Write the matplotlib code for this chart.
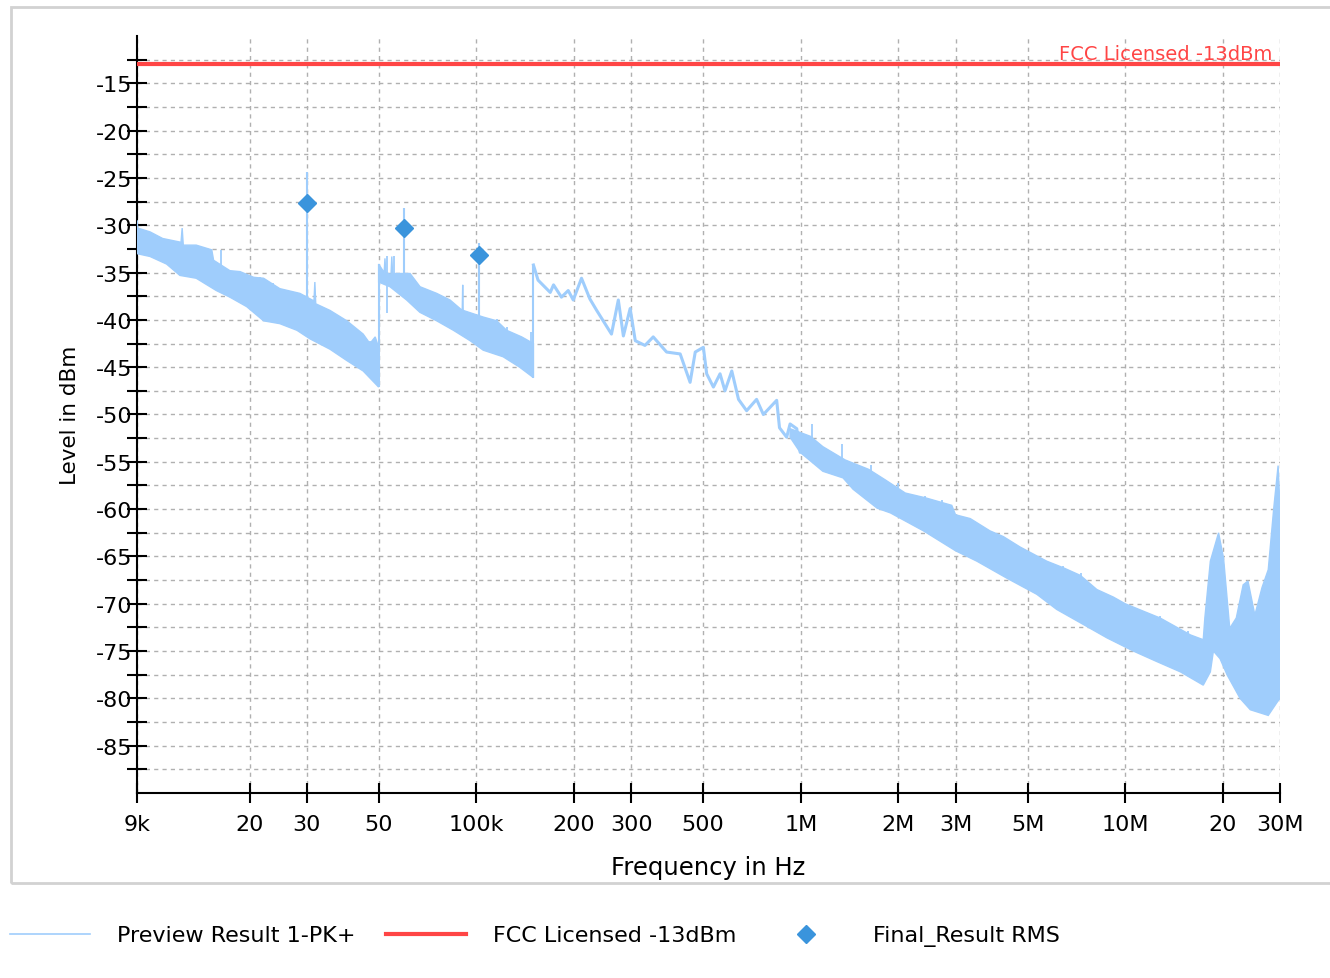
import numpy as np
import matplotlib
matplotlib.use("Agg")
import matplotlib.pyplot as plt
from matplotlib.patches import Rectangle

plt.rcParams['font.family'] = ['DejaVu Sans']
plt.rcParams['axes.unicode_minus'] = False

# Preview Result 1-PK+ (frequencies in kHz, levels in dBm), read as envelopes
seg1_up_f = [9, 9.05, 9.87, 10.8, 12.3, 12.4, 12.5, 13.7, 15.3, 15.5, 17.4, 18.7, 20.6, 22.1,
             24.8, 28.6, 31.6, 31.8, 32.0, 35.4, 39.9, 44.8, 47.0, 48.8, 50]
seg1_up_v = [-29.5, -30.3, -30.7, -31.4, -31.8, -30.3, -32.1, -32.1, -32.6, -33.7, -34.8, -34.9,
             -35.5, -35.6, -36.7, -37.2, -38.0, -36.0, -38.3, -39.0, -40.1, -41.5, -42.5, -41.8, -42.9]
seg1_lo_f = [9, 9.87, 11.1, 12.2, 13.7, 15.8, 17.4, 19.6, 22.1, 24.8, 28.0, 30.7, 35.4, 39.9, 44.8, 50]
seg1_lo_v = [-33.0, -33.3, -34.1, -35.3, -35.6, -36.9, -37.6, -38.6, -40.1, -40.4, -41.1, -42.0,
             -43.1, -44.3, -45.4, -47.1]

seg2_up_f = [50, 52.0, 52.3, 52.6, 54.6, 54.9, 55.2, 56.9, 62.5, 67.1, 75.5, 83, 90.5, 90.8, 91.1,
             105, 115.6, 124, 138, 150]
seg2_up_v = [-34.1, -35.0, -33.5, -35.0, -35.2, -33.3, -35.1, -35.1, -35.1, -36.5, -37.2, -37.9,
             -39.0, -36.3, -39.0, -39.7, -40.1, -41.1, -41.8, -42.5]
seg2_lo_f = [50, 54.2, 61, 67, 75.5, 85, 95.7, 105, 121, 136, 150]
seg2_lo_v = [-36.0, -36.5, -37.9, -39.2, -40.1, -41.1, -42.2, -43.2, -43.9, -45.0, -46.1]

seg3_f = [150, 155, 169, 173, 183, 192, 199, 211, 224, 235, 261, 274, 284, 298, 309, 331, 351, 386,
          425, 456, 473, 501, 513, 538, 564, 584, 613, 643, 681, 731, 767, 843, 860, 905, 927, 972,
          996, 1020]
seg3_v = [-34.2, -35.8, -37.1, -36.3, -37.6, -36.9, -37.9, -35.6, -37.8, -39.0, -41.5, -37.9, -41.7,
          -38.8, -42.2, -42.7, -41.8, -43.4, -43.6, -46.6, -43.4, -42.9, -45.7, -47.1, -45.7, -47.5,
          -45.4, -48.4, -49.6, -48.4, -50.0, -48.5, -51.4, -52.4, -51.0, -51.5, -54.0, -53.0]

seg4_up_f = [927, 1070, 1170, 1370, 1620, 1820, 2100, 2420, 2920, 3000, 3330, 3830, 4210, 4740,
             5730, 6450, 7270, 8180, 9200, 10000, 11400, 12800, 14100, 15900, 17400, 17600, 18300,
             19400, 20100, 21000, 22000, 23100, 23900, 25100, 26400, 27600, 28700, 29600, 30000]
seg4_up_v = [-51.5, -52.3, -53.4, -54.8, -55.8, -56.9, -58.3, -58.8, -59.6, -60.6, -61.0, -62.3,
             -62.9, -64.0, -65.5, -66.2, -67.0, -68.5, -69.3, -70.0, -70.8, -71.5, -72.3, -73.3,
             -73.8, -71.5, -65.5, -62.5, -65.2, -72.6, -71.5, -68.0, -67.6, -71.2, -68.3, -66.4,
             -59.9, -55.4, -59.9]
seg4_lo_f = [927, 996, 1170, 1350, 1450, 1720, 1890, 2390, 3000, 3490, 4320, 5340, 6150, 7440, 8780,
             10600, 12500, 14800, 17400, 18300, 18700, 19600, 20600, 22600, 24300, 27600, 29400,
             30000]
seg4_lo_v = [-52.4, -54.0, -56.0, -56.7, -57.9, -59.9, -60.4, -62.3, -64.4, -65.5, -67.3, -69.0,
             -70.6, -72.2, -73.6, -75.0, -76.1, -77.2, -78.6, -77.2, -75.0, -75.8, -77.5, -80.0,
             -81.2, -81.8, -80.4, -80.0]

# narrow noise spikes sticking out of the bands (kHz, dBm)
noise_f = [16.3, 18.3, 21.6, 23.7, 26.7, 37.2, 40.9, 47.0, 53.1, 55.6, 116, 124, 147]
noise_top = [-32.6, -34.9, -35.5, -36.1, -37.1, -39.7, -40.4, -42.2, -33.3, -33.3, -39.9, -40.8,
             -41.3]
noise4_f = [1080, 1340, 1650, 2000, 2420, 2720, 2900, 3920, 4700, 5000, 6450, 7300, 9200, 12800,
            15600]
noise4_top = [-51.0, -53.1, -55.3, -57.2, -58.6, -59.0, -59.7, -62.5, -64.1, -64.8, -66.0, -66.7,
              -69.4, -71.3, -72.9]

spike_f = [30, 60, 102]
spike_top = [-24.4, -28.2, -31.9]

# Final_Result RMS
final_f = [30, 60, 102]
final_v = [-27.6, -30.3, -33.1]

limit_level = -13
limit_name = "FCC Licensed -13dBm"

xticks = [9e3, 2e4, 3e4, 5e4, 1e5, 2e5, 3e5, 5e5, 1e6, 2e6, 3e6, 5e6, 1e7, 2e7, 3e7]
xticklabels = ["9k", "20", "30", "50", "100k", "200", "300", "500", "1M", "2M", "3M", "5M",
               "10M", "20", "30M"]

TRACE = '#9fcdfc'
RED = '#ff4545'
DIAMOND = '#3a94dc'
GRID = '#b0b0b0'

fig = plt.figure(figsize=(13.3, 9.79), dpi=100)
fig.patches.append(Rectangle((11 / 1330, 95 / 979), 1.2, 876 / 979, transform=fig.transFigure,
                             fill=False, edgecolor='#d2d2d2', linewidth=2))
ax = fig.add_axes([137 / 1330, 185 / 979, 1143 / 1330, 757 / 979])


def khz(vals):
    return np.array(vals) * 1e3


def band(fu, vu, fl, vl):
    xs = np.r_[khz(fu), khz(fl)[::-1]]
    ys = np.r_[vu, np.array(vl)[::-1]]
    ax.fill(xs, ys, color=TRACE, lw=1.0, ec=TRACE, zorder=3)


band(seg1_up_f, seg1_up_v, seg1_lo_f, seg1_lo_v)
band(seg2_up_f, seg2_up_v, seg2_lo_f, seg2_lo_v)
band(seg4_up_f, seg4_up_v, seg4_lo_f, seg4_lo_v)
ax.plot(khz(seg3_f), seg3_v, color=TRACE, lw=2.2, zorder=3)

# jumps between sweep ranges
ax.vlines(khz([seg2_up_f[0]]), seg1_lo_v[-1], seg2_up_v[0], color=TRACE, lw=1.5, zorder=3)
ax.vlines(khz([seg3_f[0]]), seg2_lo_v[-1], seg3_v[0], color=TRACE, lw=1.5, zorder=3)

all_lo_f = seg1_lo_f + seg2_lo_f[1:]
all_lo_v = seg1_lo_v + seg2_lo_v[1:]
ax.vlines(khz(noise_f), np.interp(noise_f, all_lo_f, all_lo_v), noise_top, color=TRACE, lw=1.3,
          zorder=3)
ax.vlines(khz(noise4_f), np.interp(noise4_f, seg4_lo_f, seg4_lo_v), noise4_top, color=TRACE,
          lw=1.3, zorder=3)
ax.vlines(khz(spike_f), np.interp(spike_f, all_lo_f, all_lo_v), spike_top, color=TRACE, lw=1.5,
          zorder=3)

ax.plot([9e3, 3e7], [limit_level, limit_level], color=RED, lw=3, zorder=4)
ax.text(2.85e7, limit_level + 0.15, limit_name, color=RED, fontsize=14, ha='right',
        va='bottom', zorder=5)
ax.plot(khz(final_f), final_v, 'D', color=DIAMOND, ms=9, zorder=5)

ax.set_xscale('log')
ax.set_xlim(9e3, 3e7)
ax.set_ylim(-90, -10)
ax.set_xticks(xticks)
ax.set_xticklabels(xticklabels)
ax.xaxis.set_minor_locator(matplotlib.ticker.NullLocator())
ax.set_yticks(np.arange(-85, -14, 5))
ax.set_yticks(np.arange(-87.5, -12, 5), minor=True)
ax.tick_params(axis='both', which='both', direction='inout', width=1.5, colors='black',
               labelsize=16)
ax.tick_params(axis='y', which='major', length=14, pad=-4)
ax.tick_params(axis='y', which='minor', length=14)
ax.tick_params(axis='x', which='major', length=14, pad=8)
ax.grid(True, which='both', axis='y', color=GRID, ls=(0, (3, 3)), lw=1)
ax.grid(True, which='major', axis='x', color=GRID, ls=(0, (3, 3)), lw=1)
ax.set_axisbelow(True)

for s in ['top', 'right']:
    ax.spines[s].set_visible(False)
for s in ['left', 'bottom']:
    ax.spines[s].set_linewidth(1.5)

ax.set_xlabel("Frequency in Hz", fontsize=17.5, labelpad=15)
ax.set_ylabel("Level in dBm", fontsize=15.5, labelpad=12)

h1, = ax.plot([], [], color=TRACE, lw=1.2)
h2, = ax.plot([], [], color=RED, lw=3)
h3, = ax.plot([], [], 'D', color=DIAMOND, ms=9, ls='none')
fig.legend([h1, h2, h3], ["Preview Result 1-PK+", limit_name, "Final_Result RMS"],
           loc='center left', bbox_to_anchor=(10 / 1330, 42 / 979), ncol=3, frameon=False,
           fontsize=16, handlelength=3.6, handletextpad=1.22, columnspacing=1.35,
           borderpad=0, borderaxespad=0)

fig.savefig("out.png", dpi=100)
